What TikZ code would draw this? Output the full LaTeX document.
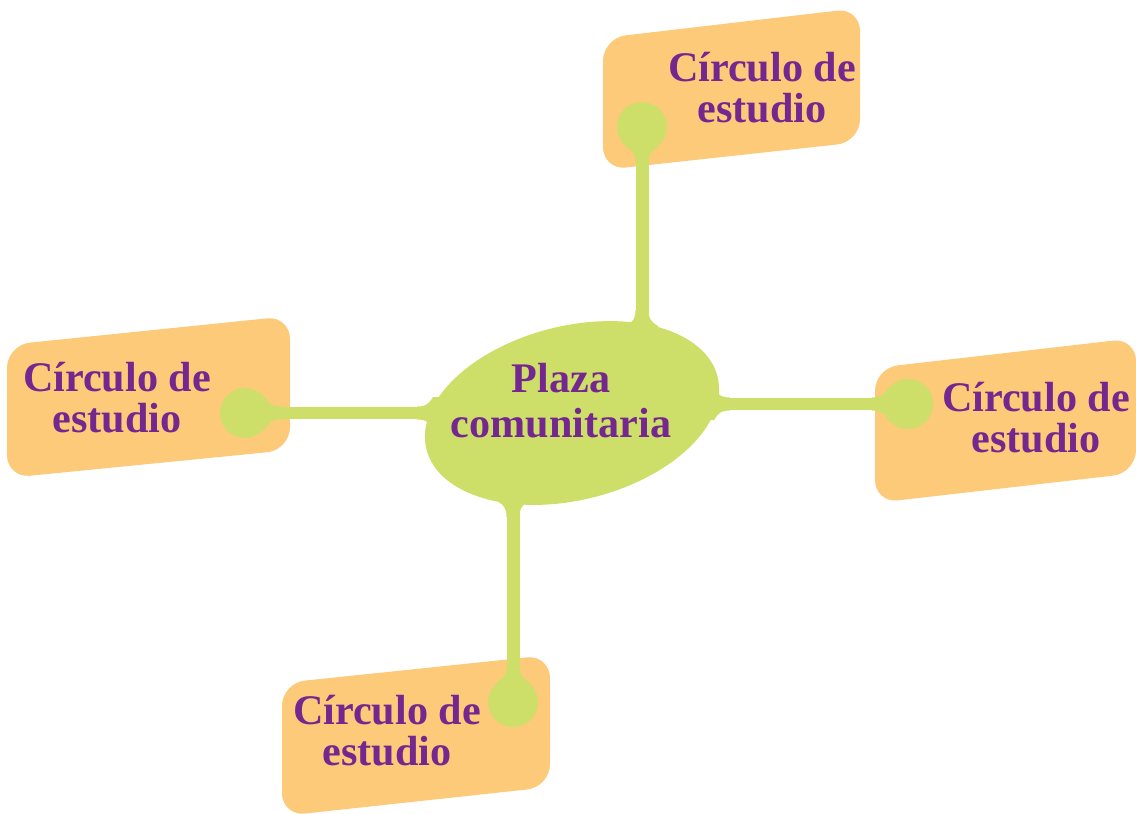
\documentclass[tikz,border=0pt]{standalone}
\usepackage{fontspec}
\setmainfont{Liberation Serif}

\definecolor{boxorange}{HTML}{FCCA79}
\definecolor{leafgreen}{HTML}{CEDF69}
\definecolor{plum}{HTML}{74288F}

% flared joint where a stem meets a blob
\newcommand{\neck}[3]{%
  \fill[leafgreen, shift={(#1)}, rotate=#2]
    (-14,-16) -- (0,-16) .. controls (5,-8) and (8,-6.5) .. (16,-6.5)
    -- (16,6.5) .. controls (8,6.5) and (5,8) .. (0,16) -- (-14,16) -- cycle;
  #3}

\begin{document}
\begin{tikzpicture}[x=0.02cm, y=-0.02cm,
  card/.style={fill=boxorange, rounded corners=13pt},
  cardtext/.style={align=center, inner sep=0pt, text=plum,
    font=\bfseries\fontsize{24}{23.3}\selectfont},
  knob/.style={circle, fill=leafgreen, minimum size=1cm, inner sep=0pt},
  stem/.style={draw=leafgreen, line width=0.26cm}]

\useasboundingbox (0,0) rectangle (1136,814);

% Orange cards
\fill[card] (603,38) -- (860,8) -- (860,142) -- (603,170) -- cycle;
\fill[card] (7,345) -- (290,316) -- (290,450) -- (7,478) -- cycle;
\fill[card] (875,368) -- (1136,338) -- (1136,473) -- (875,503) -- cycle;
\fill[card] (282,683) -- (550,655) -- (550,787) -- (282,816) -- cycle;

% Central blob
\fill[leafgreen, rotate around={14:(572,413)}] (572,413) ellipse (150 and 87);
\node[cardtext, font=\bfseries\fontsize{24}{25.5}\selectfont]
  (plaza) at (561,401) {Plaza\\comunitaria};

% Knobs at the end of each stem
\node[knob] (dN) at (642,127) {};
\node[knob] (dW) at (245,413) {};
\node[knob] (dE) at (908,404) {};
\node[knob] (dS) at (513,702) {};

% Stems
\draw[stem] (dN) -- (dN |- plaza.north);
\draw[stem] (dW) -- (dW -| plaza.west);
\draw[stem] (dE) -- (dE -| plaza.east);
\draw[stem] (dS) -- (dS |- plaza.south);

% Joints
\neck{642,326}{90}{}
\neck{513,501}{-90}{}
\neck{433,413}{180}{}
\neck{714,404}{0}{}
\neck{642,147}{-90}{}
\neck{265,413}{0}{}
\neck{888,404}{180}{}
\neck{513,682}{90}{}

% Card texts
\node[cardtext] (cN) at (762,88)  {Círculo de\\estudio};
\node[cardtext] (cW) at (117,398) {Círculo de\\estudio};
\node[cardtext] (cE) at (1036,418) {Círculo de\\estudio};
\node[cardtext] (cS) at (387,731) {Círculo de\\estudio};

\end{tikzpicture}
\end{document}
